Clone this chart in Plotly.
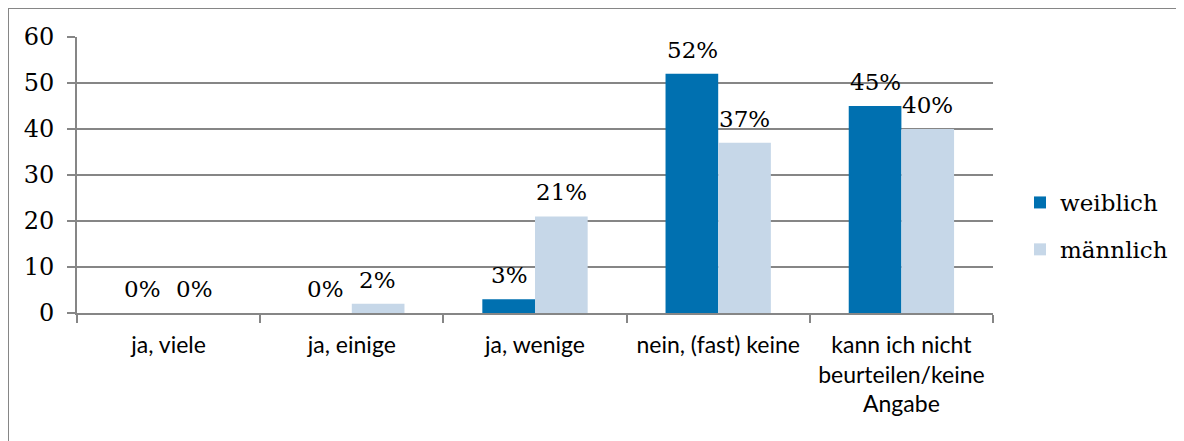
import plotly.graph_objects as go

categories = ["ja, viele", "ja, einige", "ja, wenige", "nein, (fast) keine", "kann ich nicht<br>beurteilen/keine<br>Angabe"]
weiblich = [0, 0, 3, 52, 45]
maennlich = [0, 2, 21, 37, 40]
series_names = ["weiblich", "männlich"]
y_ticks = [0, 10, 20, 30, 40, 50, 60]

serif = "DejaVu Serif, Liberation Serif, serif"
sans = "Lato, Open Sans, sans-serif"

W, H = 1176, 433
L, R, T, B = 69, 191, 29, 128
PW, PH = W - L - R, H - T - B

fig = go.Figure()
fig.add_trace(go.Bar(
    x=categories, y=weiblich, name=series_names[0], legendgroup="w",
    marker=dict(color="#0070B0", line=dict(width=0)),
))
fig.add_trace(go.Bar(
    x=categories, y=maennlich, name=series_names[1], legendgroup="m",
    marker=dict(color="#C6D7E8", line=dict(width=0)),
))

# data labels above each bar
annotations = []
for vals, shift in ((weiblich, -26), (maennlich, 26)):
    for c, v in zip(categories, vals):
        annotations.append(dict(
            x=c, y=v, xref="x", yref="y", text=f"{v}%", showarrow=False,
            xshift=shift, yanchor="bottom", yshift=9,
            font=dict(family=serif, size=23, color="#000000"),
        ))

fig.update_layout(
    width=W, height=H,
    margin=dict(l=L, r=R, t=T, b=B, autoexpand=False),
    paper_bgcolor="white", plot_bgcolor="white",
    barmode="group", bargap=0.425, bargroupgap=0,
    showlegend=True,
    legend=dict(x=(1012 - L) / PW, y=(313 - 226) / 276, xanchor="left", yanchor="middle",
                font=dict(family=serif, size=23, color="#000000"),
                tracegroupgap=14, itemwidth=30),
    xaxis=dict(
        showline=True, linecolor="#868686", linewidth=2,
        ticks="outside", tickson="boundaries", ticklen=8, tickcolor="#868686", tickwidth=2,
        tickfont=dict(family=sans, size=23, color="#000000"),
        tickangle=0, automargin=False,
        ticklabelstandoff=10,
        showgrid=False,
    ),
    yaxis=dict(
        range=[0, 60], tickvals=y_ticks,
        showline=True, linecolor="#868686", linewidth=2,
        ticks="outside", ticklen=8, tickcolor="#868686", tickwidth=2,
        showgrid=True, gridcolor="#868686", gridwidth=2,
        tickfont=dict(family=serif, size=24, color="#000000"),
        ticklabelstandoff=8, automargin=False,
        zeroline=False,
    ),
    annotations=annotations,
    shapes=[
        dict(type="rect", xref="paper", yref="paper",
             x0=(0 - L) / PW, x1=1.3, y0=-0.6, y1=(H - B - 0) / PH,
             line=dict(color="#868686", width=2), layer="below"),
    ],
)

fig.write_html("out.html")
